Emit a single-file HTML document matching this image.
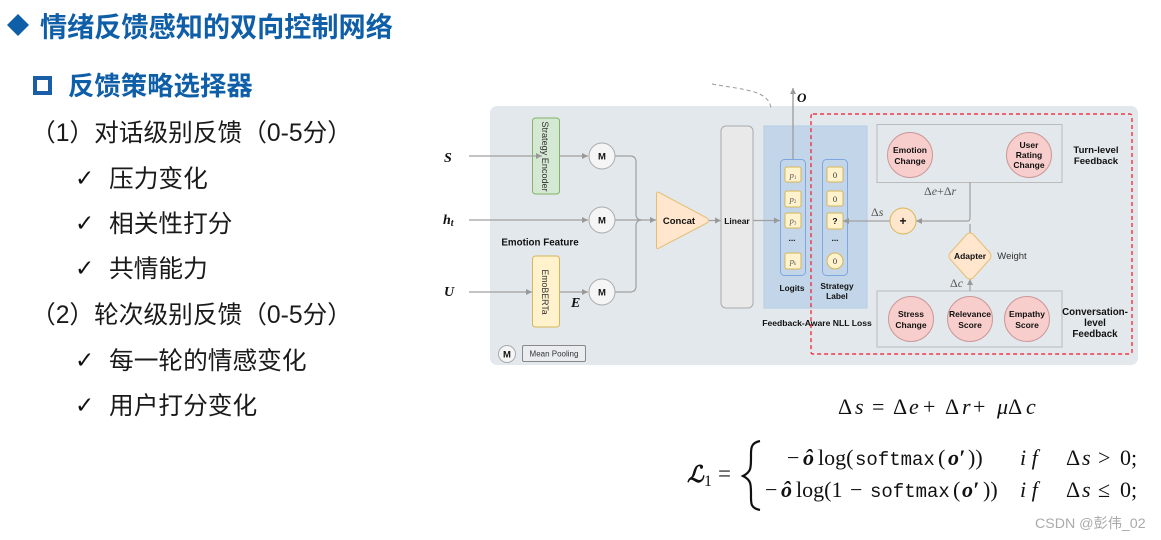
<!DOCTYPE html>
<html><head><meta charset="utf-8"><style>
html,body{margin:0;padding:0;background:#fff;width:1161px;height:540px;overflow:hidden}
svg{display:block}
.h{font-family:"Liberation Sans","Noto Sans CJK SC",sans-serif;font-weight:700;fill:#0f5ea8}
.b{font-family:"Liberation Sans","Noto Sans CJK SC",sans-serif;font-size:24.7px;fill:#1a1a1a}
.c{font-family:"DejaVu Sans",sans-serif;font-size:23px;fill:#111}
.n{font-family:"Liberation Sans",sans-serif;font-weight:700;fill:#111;text-anchor:middle;font-size:8.5px}
.g{font-family:"Liberation Sans",sans-serif;fill:#333;text-anchor:middle}
.m{font-family:"Liberation Serif",serif;fill:#111;font-size:22px}
.it{font-style:italic}
.bo{font-weight:700;font-style:italic}
.mo{font-family:"Liberation Mono",monospace;font-size:19px}
.bi{font-family:"Liberation Serif",serif;font-weight:700;font-style:italic;fill:#111}
.i{font-family:"Liberation Serif",serif;font-style:italic;fill:#555;text-anchor:middle;font-size:8.5px}
.d{font-family:"Liberation Serif",serif;fill:#555;font-size:12px}
.l{fill:none;stroke:#a0a0a0;stroke-width:1.2}
.pb{fill:#fff2cc;stroke:#d6b656;stroke-width:1}
.cr{fill:#f8cecc;stroke:#c99;stroke-width:1}
.mc{fill:#f5f5f5;stroke:#aaa;stroke-width:1}
.fb{fill:none;stroke:#bbb;stroke-width:1}
.dia{filter:blur(.35px)}
</style></head><body>
<svg width="1161" height="540" viewBox="0 0 1161 540" xmlns="http://www.w3.org/2000/svg">
<defs><marker id="a" markerWidth="7" markerHeight="7" refX="6" refY="3.500" orient="auto" markerUnits="userSpaceOnUse"><path d="M0 .5L6 3.500L0 6.500z" fill="#999"/></marker></defs>

<!-- left text -->
<polygon points="18,14 29,25 18,36 7,25" fill="#0f5ea8"/>
<text class="h" x="40" y="36.500" font-size="27.150">情绪反馈感知的双向控制网络</text>
<rect x="35" y="78" width="15" height="15" fill="none" stroke="#1a5ea8" stroke-width="4"/>
<text class="h" x="68" y="95" font-size="26.400">反馈策略选择器</text>
<text class="b" x="31" y="141">（1）对话级别反馈（0-5分）</text>
<text class="c" x="75" y="186">✓</text><text class="b" x="109" y="187">压力变化</text>
<text class="c" x="75" y="231">✓</text><text class="b" x="109" y="232">相关性打分</text>
<text class="c" x="75" y="276">✓</text><text class="b" x="109" y="277">共情能力</text>
<text class="b" x="31" y="323">（2）轮次级别反馈（0-5分）</text>
<text class="c" x="75" y="368">✓</text><text class="b" x="109" y="369">每一轮的情感变化</text>
<text class="c" x="75" y="413">✓</text><text class="b" x="109" y="414">用户打分变化</text>

<g class="dia">
<!-- panel -->
<rect x="490" y="106" width="648" height="259" rx="7" fill="#e3e8ec"/>
<path d="M712 84C745 90 768 90 771 108" fill="none" stroke="#999" stroke-dasharray="4 3"/>

<rect x="764" y="126" width="103" height="182" fill="#c3d6e9" stroke="#b5cde4"/>
<rect x="532.500" y="118" width="27" height="76" rx="3" fill="#d5e8d4" stroke="#82b366"/>
<rect x="532.500" y="256" width="27" height="71" rx="3" fill="#fff2cc" stroke="#d6b656"/>
<text class="g" transform="translate(542,156.500) rotate(90)" font-size="9.100" fill="#222">Strategy Encoder</text>
<text class="g" transform="translate(542,292) rotate(90)" font-size="8.800" fill="#222">EmoBERTa</text>

<!-- connectors left -->
<path class="l" d="M469 156H542" marker-end="url(#a)"/>
<path class="l" d="M560 156H588" marker-end="url(#a)"/>
<path class="l" d="M469 220H588" marker-end="url(#a)"/>
<path class="l" d="M469 292H532" marker-end="url(#a)"/>
<path class="l" d="M560 292H588" marker-end="url(#a)"/>
<path class="l" d="M615 156H630Q636 156 636 162V214Q636 220 642 220"/>
<path class="l" d="M615 292H630Q636 292 636 286V226Q636 220 642 220"/>
<path class="l" d="M615 220H656" marker-end="url(#a)"/>
<path class="l" d="M709 220.500H721" marker-end="url(#a)"/>
<path class="l" d="M753 220.500H780" marker-end="url(#a)"/>
<path d="M793 159V88" fill="none" stroke="#a0a0a0" stroke-width="1.400" marker-end="url(#a)"/>

<circle class="mc" cx="602" cy="156" r="13"/><circle class="mc" cx="602" cy="220" r="13"/><circle class="mc" cx="602" cy="292" r="13"/>
<text class="n" x="602" y="159.500" style="font-size:9.500px">M</text><text class="n" x="602" y="223.500" style="font-size:9.500px">M</text><text class="n" x="602" y="295.500" style="font-size:9.500px">M</text>

<path d="M656.500 194Q656.500 191 659 192.500L707 218Q710 220.500 707 223L659 248Q656.500 249.500 656.500 247z" fill="#ffe6cc" stroke="#e5bd72"/>
<text class="n" x="679" y="224" style="font-size:9.500px">Concat</text>
<rect x="721" y="126" width="32" height="182" rx="5" fill="#e9e9e9" stroke="#aaa"/>
<text class="n" x="737" y="224">Linear</text>

<text class="bi" x="444" y="162" font-size="14">S</text>
<text class="bi" x="443" y="224" font-size="14">h<tspan font-size="10" dy="2">t</tspan></text>
<text class="bi" x="444" y="296" font-size="14">U</text>
<text class="bi" x="571" y="307" font-size="14">E</text>
<text class="bi" x="797" y="102" font-size="13">O</text>
<text class="n" x="540" y="245.500" style="font-size:9.800px">Emotion Feature</text>

<circle class="mc" cx="507" cy="354" r="8.500"/><text class="n" x="507" y="357.500" style="font-size:9.500px">M</text>
<rect x="522.500" y="345.500" width="63" height="16" rx="1.500" fill="#e9edf0" stroke="#888"/>
<text class="g" x="554" y="356.500" font-size="8">Mean Pooling</text>

<!-- logits -->
<rect x="780.500" y="159.500" width="25" height="116" rx="4" fill="#c3d6e9" stroke="#7ea6e0"/>
<rect x="822.500" y="159.500" width="25" height="116" rx="4" fill="#c3d6e9" stroke="#7ea6e0"/>
<rect class="pb" x="785" y="167" width="16" height="15" rx="2"/><rect class="pb" x="785" y="191" width="16" height="16" rx="2"/><rect class="pb" x="785" y="213" width="16" height="15" rx="2"/><rect class="pb" x="785" y="253" width="16" height="16" rx="2"/>
<text class="i" x="793" y="178">p<tspan font-size="5" dy="1" font-style="normal">1</tspan></text>
<text class="i" x="793" y="202">p<tspan font-size="5" dy="1" font-style="normal">2</tspan></text>
<text class="i" x="793" y="223.500">p<tspan font-size="5" dy="1" font-style="normal">3</tspan></text>
<text class="i" x="793" y="264">p<tspan font-size="5" dy="1">k</tspan></text>
<text class="n" x="792" y="241">...</text><text class="n" x="835" y="241">...</text>
<rect class="pb" x="827" y="167" width="16" height="15" rx="2"/><rect class="pb" x="827" y="191" width="16" height="15" rx="2"/><rect class="pb" x="827" y="213" width="16" height="16" rx="2"/><circle class="pb" cx="835" cy="261" r="8"/>
<text class="i" x="835" y="178" style="font-style:normal;fill:#333">0</text><text class="i" x="835" y="202" style="font-style:normal;fill:#333">0</text><text class="n" x="835" y="224">?</text><text class="i" x="835" y="264" style="font-style:normal;fill:#333">0</text>
<text class="n" x="792" y="291" style="font-size:8.300px">Logits</text>
<text class="n" x="837" y="289" style="font-size:8.300px">Strategy</text><text class="n" x="837" y="299" style="font-size:8.300px">Label</text>
<text class="n" x="817" y="326" style="font-size:8.600px">Feedback-Aware NLL Loss</text>

<!-- right -->
<rect class="fb" x="877" y="124.500" width="185" height="58"/>
<rect class="fb" x="877" y="291" width="185" height="56"/>
<circle class="cr" cx="910" cy="155" r="22.500"/><circle class="cr" cx="1029" cy="155" r="22.500"/>
<circle class="cr" cx="911" cy="319" r="22.500"/><circle class="cr" cx="970" cy="319" r="22.500"/><circle class="cr" cx="1027" cy="319" r="22.500"/>
<text class="n" x="910" y="153">Emotion</text><text class="n" x="910" y="164">Change</text>
<text class="n" x="1029" y="148">User</text><text class="n" x="1029" y="158">Rating</text><text class="n" x="1029" y="168">Change</text>
<text class="n" x="911" y="317">Stress</text><text class="n" x="911" y="328">Change</text>
<text class="n" x="970" y="317">Relevance</text><text class="n" x="970" y="328">Score</text>
<text class="n" x="1027" y="317">Empathy</text><text class="n" x="1027" y="328">Score</text>
<text class="n" x="1096" y="153" style="font-size:9.600px">Turn-level</text><text class="n" x="1096" y="164" style="font-size:9.600px">Feedback</text>
<text class="n" x="1095" y="315" style="font-size:9.800px">Conversation-</text><text class="n" x="1095" y="326" style="font-size:9.800px">level</text><text class="n" x="1095" y="337" style="font-size:9.800px">Feedback</text>

<path class="l" d="M970 182V217Q970 221 968 221H916" marker-end="url(#a)"/>
<path class="l" d="M970 224V233"/>
<path class="l" d="M890 221H843" marker-end="url(#a)"/>
<path class="l" d="M970 291V279" marker-end="url(#a)"/>
<circle cx="903" cy="221" r="13" fill="#ffe6cc" stroke="#d6b656"/>
<text class="n" x="903" y="225" style="font-size:12px">+</text>
<path d="M967 234Q970 232 973 234L990 253Q992 256 990 259L973 278Q970 280 967 278L950 259Q948 256 950 253z" fill="#ffe6cc" stroke="#e5bd72"/>
<text class="n" x="970" y="259">Adapter</text>
<text class="g" x="1012" y="259" font-size="9.500">Weight</text>
<text class="d" x="924" y="195">Δ<tspan class="it">e</tspan>+Δ<tspan class="it">r</tspan></text>
<text class="d" x="871" y="216">Δ<tspan class="it">s</tspan></text>
<text class="d" x="950" y="287">Δ<tspan class="it">c</tspan></text>
</g>
<rect x="811" y="114" width="321" height="240" rx="2" fill="none" stroke="#f01828" stroke-width="1.200" stroke-dasharray="4 3"/>

<!-- formulas -->
<text class="m" y="414"><tspan x="838">Δ</tspan><tspan x="855" class="it">s</tspan><tspan x="872">=</tspan><tspan x="893">Δ</tspan><tspan x="909" class="it">e</tspan><tspan x="923">+</tspan><tspan x="945">Δ</tspan><tspan x="962" class="it">r</tspan><tspan x="973">+</tspan><tspan x="997" class="it">μ</tspan><tspan x="1008">Δ</tspan><tspan x="1026" class="it">c</tspan></text>
<text class="m" y="482" style="font-size:23px"><tspan x="687" font-style="italic" font-weight="700">ℒ</tspan></text>
<text class="m" x="704" y="486" style="font-size:16px">1</text>
<text class="m" x="718" y="481" style="font-size:23px">=</text>
<path d="M760 441C750 443 751 449 751 458C751 468 751 472 743 476C751 480 751 484 751 494C751 503 750 508 760 510" fill="none" stroke="#111" stroke-width="2.200"/>
<text class="m" y="465"><tspan x="787">−</tspan><tspan x="803" class="bo">ô</tspan><tspan x="818">log(</tspan><tspan x="855" class="mo">softmax</tspan><tspan x="938">(</tspan><tspan x="948" class="bo">o′</tspan><tspan x="968">))</tspan></text>
<text class="m" y="497"><tspan x="765">−</tspan><tspan x="781" class="bo">ô</tspan><tspan x="796">log(1</tspan><tspan x="850">−</tspan><tspan x="870" class="mo">softmax</tspan><tspan x="953">(</tspan><tspan x="962" class="bo">o′</tspan><tspan x="983">))</tspan></text>
<text class="m it" x="1020" y="465">i f</text>
<text class="m it" x="1020" y="497">i f</text>
<text class="m" y="465"><tspan x="1066">Δ</tspan><tspan x="1082" class="it">s</tspan><tspan x="1098">&gt;</tspan><tspan x="1120">0;</tspan></text>
<text class="m" y="497"><tspan x="1066">Δ</tspan><tspan x="1082" class="it">s</tspan><tspan x="1098">≤</tspan><tspan x="1120">0;</tspan></text>
<text x="1035" y="528" font-family="Liberation Sans,Noto Sans CJK SC,sans-serif" font-size="14.200" fill="#aaa">CSDN @彭伟_02</text>
</svg>
</body></html>
